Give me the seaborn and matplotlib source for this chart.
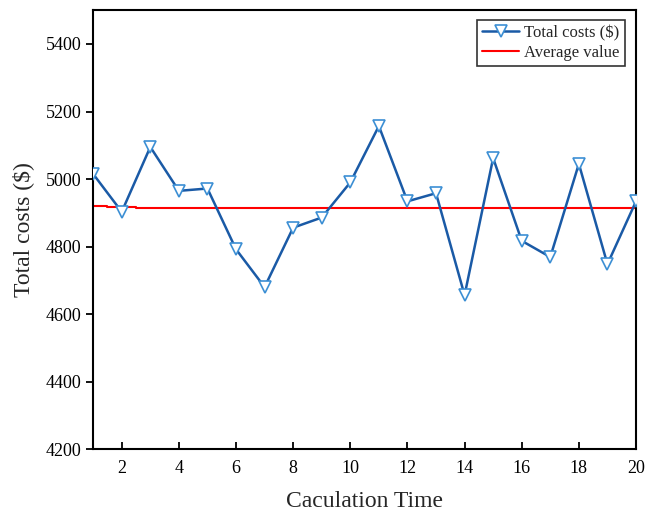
import matplotlib
matplotlib.use("Agg")
import matplotlib.pyplot as plt
import seaborn as sns
import pandas as pd

calc_time = list(range(1, 21))
total_costs = [5015, 4903, 5095, 4965, 4972, 4792, 4680, 4856, 4886, 4990,
               5157, 4934, 4958, 4656, 5062, 4817, 4769, 5045, 4748, 4934]
average_value = [4920, 4918, 4914, 4914, 4914, 4914, 4914, 4914, 4914, 4914,
                 4914, 4914, 4914, 4914, 4914, 4914, 4914, 4914, 4914, 4914]
x_ticks = [2, 4, 6, 8, 10, 12, 14, 16, 18, 20]
y_ticks = [4200, 4400, 4600, 4800, 5000, 5200, 5400]

sns.set_theme(style="ticks")
plt.rcParams['font.family'] = ['Liberation Serif', 'DejaVu Serif']

df = pd.DataFrame({"t": calc_time, "cost": total_costs, "avg": average_value})

fig = plt.figure(figsize=(6.47, 5.11), dpi=100)
ax = fig.add_axes([0.144, 0.121, 0.839, 0.859])

sns.lineplot(data=df, x="t", y="avg", ax=ax, color="#ff0000", lw=1.5,
             drawstyle="steps-mid", label="Average value", zorder=2)
sns.lineplot(data=df, x="t", y="cost", ax=ax, color="#1a5aa6", lw=1.8,
             marker="v", markersize=9, markerfacecolor="white",
             markeredgecolor="#3c8fd4", markeredgewidth=1.2,
             label="Total costs ($)", zorder=3)

ax.set_xlim(1, 20)
ax.set_ylim(4200, 5500)
ax.set_xticks(x_ticks)
ax.set_yticks(y_ticks)
ax.tick_params(axis="x", direction="in", length=5, width=1.3, labelsize=13, pad=8, colors="black")
ax.tick_params(axis="y", direction="out", length=5, width=1.3, labelsize=13, colors="black")
for s in ax.spines.values():
    s.set_linewidth(1.5)
    s.set_color("black")
ax.set_xlabel("Caculation Time", fontsize=17, labelpad=10)
ax.set_ylabel("Total costs ($)", fontsize=17, labelpad=8)

handles, labels = ax.get_legend_handles_labels()
order = [labels.index("Total costs ($)"), labels.index("Average value")]
leg = ax.legend([handles[i] for i in order], [labels[i] for i in order],
                loc="upper right", bbox_to_anchor=(0.985, 0.985), fontsize=12,
                frameon=True, fancybox=False, edgecolor="black",
                handlelength=2.2, borderpad=0.3, labelspacing=0.2, handletextpad=0.3,
                borderaxespad=0.2)
leg.get_frame().set_linewidth(1.2)

fig.savefig("out.png", dpi=100)
